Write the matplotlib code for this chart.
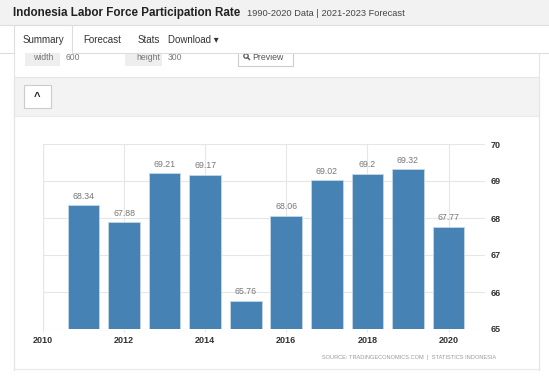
import matplotlib.pyplot as plt
from matplotlib.patches import Rectangle, Circle

# Indonesia labor force participation rate, 2011-2020
years = [2011, 2012, 2013, 2014, 2015, 2016, 2017, 2018, 2019, 2020]
rates = [68.34, 67.88, 69.21, 69.17, 65.76, 68.06, 69.02, 69.2, 69.32, 67.77]
x_ticks = [2010, 2012, 2014, 2016, 2018, 2020]
y_ticks = [65, 66, 67, 68, 69, 70]

BAR = "#4682b4"
GRID = "#e6e6e6"
FONT = ["Liberation Sans", "DejaVu Sans"]

W, H = 549, 380
fig = plt.figure(figsize=(W / 100, H / 100), dpi=100)

# page background drawn in pixel coordinates
bg = fig.add_axes([0, 0, 1, 1])
bg.set_xlim(0, W)
bg.set_ylim(H, 0)
bg.axis("off")


def box(x, y, w, h, fc, ec="none", lw=0.8, z=1):
    bg.add_patch(Rectangle((x, y), w, h, facecolor=fc, edgecolor=ec, linewidth=lw, zorder=z))


# options strip (partly scrolled under the nav bar)
bg.plot([14, 14], [53, 370], color="#e5e5e5", lw=0.8)
bg.plot([539, 539], [53, 370], color="#e5e5e5", lw=0.8)
box(25, 50, 35, 16, "#eeeeee")
box(60, 50, 50, 16, "white")
box(125, 50, 37, 16, "#eeeeee")
box(162, 50, 43, 16, "white")
bg.text(33, 58, "width", fontsize=6.2, family=FONT, color="#777777", va="center")
bg.text(66, 58, "600", fontsize=6.2, family=FONT, color="#777777", va="center")
bg.text(136, 58, "height", fontsize=6.2, family=FONT, color="#777777", va="center")
bg.text(168, 58, "300", fontsize=6.2, family=FONT, color="#777777", va="center")
box(238, 46, 55, 20, "white", "#cccccc")
# magnifier icon (no installed font has the glyph)
bg.add_patch(Circle((246, 56), 2.2, facecolor="none", edgecolor="#555555", linewidth=0.9))
bg.plot([247.6, 249.5], [57.6, 59.5], color="#555555", lw=1.0)
bg.text(252, 57, "Preview", fontsize=6.3, family=FONT, color="#555555", va="center")

# header and nav bar on top
box(0, 0, W, 25, "#f2f2f2", z=5)
box(0, 25, W, 28, "white", z=5)
for xs, ys in [([0, W], [25, 25]), ([0, 14], [53, 53]), ([72, W], [53, 53]),
               ([14, 14, 72, 72], [53, 25, 25, 53])]:
    bg.plot(xs, ys, color="#dddddd", lw=0.8, zorder=6)
bg.text(13, 13, "Indonesia Labor Force Participation Rate", fontsize=8.4,
        fontweight="bold", family=FONT, color="#222222", va="center", zorder=7)
bg.text(247, 13, "1990-2020 Data | 2021-2023 Forecast", fontsize=6.7,
        family=FONT, color="#444444", va="center", zorder=7)
for label, xpos in [("Summary", 23), ("Forecast", 83), ("Stats", 138), ("Download \u25be", 168)]:
    bg.text(xpos, 40, label, fontsize=7.0, family=FONT, color="#333333", va="center", zorder=7)

box(14, 77, 525, 39, "#f3f3f3", "#e5e5e5")
box(24, 85, 27, 23, "white", "#cccccc")
bg.text(37.5, 97, "^", fontsize=8, fontweight="bold", family=FONT, color="#222222",
        ha="center", va="center")

box(14, 116, 525, 253, "white", "#eaeaea")
bg.text(496, 358, "SOURCE: TRADINGECONOMICS.COM  |  STATISTICS INDONESIA",
        fontsize=4.1, family=FONT, color="#999999", ha="right", va="center")

# the chart itself
ax = fig.add_axes([43 / W, 1 - 329 / H, 442 / W, 185 / H])
ax.bar(years, [r - 65 for r in rates], bottom=65, width=0.78, color=BAR,
       edgecolor="#c6d7e6", linewidth=0.6, zorder=3)
for yr, r in zip(years, rates):
    ax.text(yr, r + 0.12, f"{r:g}", ha="center", va="bottom", fontsize=6.3,
            family=FONT, color="#777777", zorder=4)

ax.set_xlim(2010, 2020.9)
ax.set_ylim(65, 70)
ax.set_xticks(x_ticks)
ax.set_yticks(y_ticks)
ax.grid(True, color=GRID, linewidth=0.8, zorder=0)
for s in ["top", "right", "bottom"]:
    ax.spines[s].set_visible(False)
ax.spines["left"].set_color(GRID)
ax.yaxis.tick_right()
ax.tick_params(axis="y", length=0, pad=4, labelsize=6.5, labelcolor="#333333")
ax.tick_params(axis="x", length=2, color=GRID, pad=3, labelsize=6.5, labelcolor="#333333")
for lab in ax.get_xticklabels() + ax.get_yticklabels():
    lab.set_family(FONT)
    lab.set_fontweight("bold")

fig.savefig("out.png", dpi=100)
